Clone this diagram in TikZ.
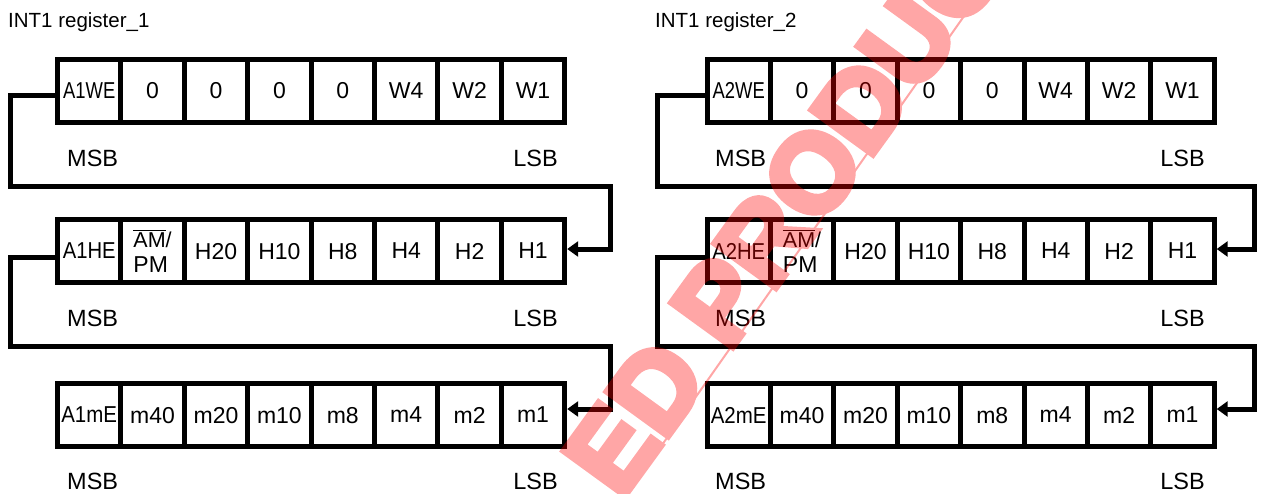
\documentclass[tikz,border=0pt]{standalone}
\usepackage{fontspec}
\setmainfont{Liberation Sans}
\newfontfamily\wmfont[FakeBold=6]{Liberation Sans Bold}
\usetikzlibrary{arrows.meta}
\newcommand\ovl[1]{\leavevmode\vbox{\hrule height 1pt\kern 2pt\hbox{#1}}}
\newcommand\regrow[4]{%
  \foreach \t [count=\i] in {#4} {
    \node[cell] (#1c\i) at ({#2+57.5+(\i-0.5)*63.4},#3) {\t};
  }%
}
\tikzset{
  cell/.style={draw, line width=5pt, minimum width=63.4pt, minimum height=63pt,
    inner sep=0pt, outer sep=0pt, align=left, text depth=0pt, font=\fontsize{23}{25}\selectfont},
  conn/.style={line width=5pt, -{Triangle[length=11pt,width=15pt]}},
  lbl/.style={anchor=base west, font=\fontsize{23.5}{25}\selectfont, inner sep=0pt},
  rlbl/.style={anchor=base east, font=\fontsize{23.5}{25}\selectfont, inner sep=0pt},
  ttl/.style={anchor=base west, font=\fontsize{20.5}{22}\selectfont, inner sep=0pt},
}
\begin{document}
\begin{tikzpicture}[x=1pt,y=-1pt]
\useasboundingbox (0,0) rectangle (1261,493);
% titles
\node[ttl] (t1) at (8,27.3) {INT1 register\_1};
\node[ttl] (t2) at (655,27.3) {INT1 register\_2};
% left group
\regrow{La}{0}{90.5}{{\scalebox{0.8}[1]{A1WE}},0,0,0,0,W4,W2,W1}
\regrow{Lb}{0}{251}{{\scalebox{0.88}[1]{A1HE}},{\fontsize{21.5}{23.5}\selectfont\ovl{AM}/\\PM},H20,H10,H8,H4,H2,H1}
\regrow{Lc}{0}{415}{{\scalebox{0.89}[1]{A1mE}},m40,m20,m10,m8,m4,m2,m1}
% right group
\regrow{Ra}{649.5}{90.5}{{\scalebox{0.8}[1]{A2WE}},0,0,0,0,W4,W2,W1}
\regrow{Rb}{649.5}{251}{{\scalebox{0.88}[1]{A2HE}},{\fontsize{21.5}{23.5}\selectfont\ovl{AM}/\\PM},H20,H10,H8,H4,H2,H1}
\regrow{Rc}{649.5}{415}{{\scalebox{0.89}[1]{A2mE}},m40,m20,m10,m8,m4,m2,m1}
% MSB / LSB labels
\node[lbl] (Lam) at (67,166) {MSB};
\node[rlbl] (Lal) at (558,166) {LSB};
\node[lbl] (Lbm) at (67,326) {MSB};
\node[rlbl] (Lbl) at (558,326) {LSB};
\node[lbl] (Lcm) at (67,489) {MSB};
\node[rlbl] (Lcl) at (558,489) {LSB};
\node[lbl] (Ram) at (715,166) {MSB};
\node[rlbl] (Ral) at (1205,166) {LSB};
\node[lbl] (Rbm) at (715,326) {MSB};
\node[rlbl] (Rbl) at (1205,326) {LSB};
\node[lbl] (Rcm) at (715,489) {MSB};
\node[rlbl] (Rcl) at (1205,489) {LSB};
% connectors
\draw[conn] ([yshift=-5pt]Lac1.west) -| (10.5,186) -| (610.5,249) -- ([xshift=2.5pt,yshift=2pt]Lbc8.east);
\draw[conn] ([yshift=-6pt]Lbc1.west) -| (10.5,346) -| (610.5,409) -- ([xshift=2.5pt,yshift=6pt]Lcc8.east);
\draw[conn] ([yshift=-5pt]Rac1.west) -| (657.5,186) -| (1254,249) -- ([xshift=2.5pt,yshift=2pt]Rbc8.east);
\draw[conn] ([yshift=-6pt]Rbc1.west) -| (657.5,346) -| (1254,409) -- ([xshift=2.5pt,yshift=6pt]Rcc8.east);
% watermark
\begin{scope}
\clip (0,0) rectangle (1261,493);
\begin{scope}[transparency group, opacity=0.35]
\draw[red, line width=2pt] (600,533) -- (1000,-35);
\node[text=red, rotate=54, inner sep=0pt,
  font=\fontsize{110}{110}\wmfont] (wm) at (784,212) {ED PRODUC};
\end{scope}
\end{scope}
\end{tikzpicture}
\end{document}
